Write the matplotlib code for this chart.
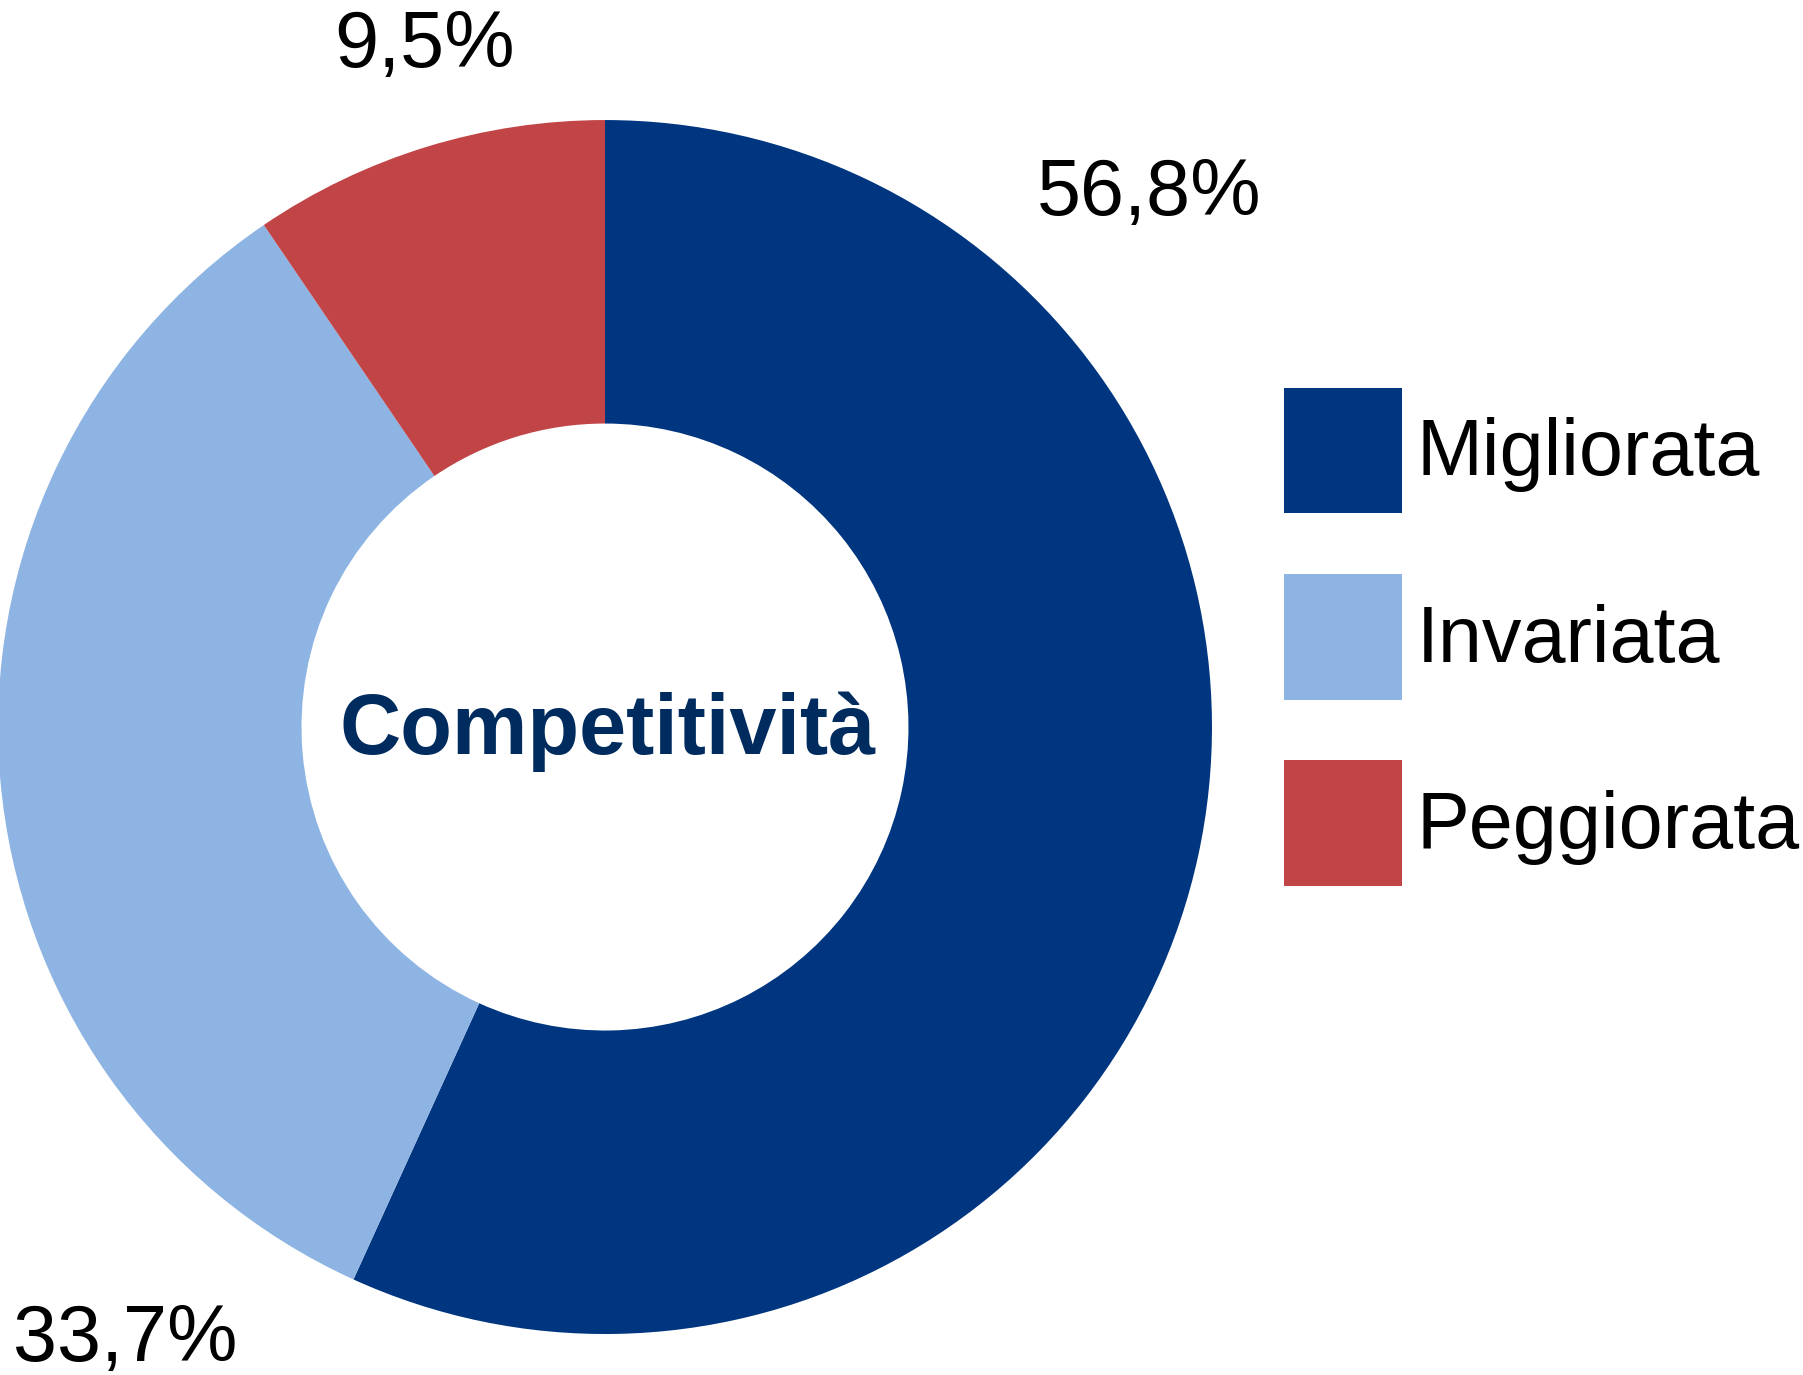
import matplotlib
matplotlib.use("Agg")
import matplotlib.pyplot as plt

plt.rcParams['font.family'] = ['Liberation Sans', 'DejaVu Sans']

# data
categories = ["Migliorata", "Invariata", "Peggiorata"]
shares = [56.8, 33.7, 9.5]
label_texts = ["56,8%", "33,7%", "9,5%"]
colors = ["#003580", "#8EB4E3", "#C14446"]

fig = plt.figure(figsize=(18.03, 13.75), dpi=100)
ax = fig.add_axes([-0.0011, 0.0298, 0.6733, 0.8829])

wedges, _ = ax.pie(shares, colors=colors, startangle=90, counterclock=False,
                   radius=1, wedgeprops=dict(width=0.5, linewidth=0))
ax.set_xlim(-1, 1)
ax.set_ylim(-1, 1)
ax.set_aspect("equal")
ax.axis("off")

# percent labels placed around the ring
label_pos = [(0.896, 0.843), (-0.791, -1.044), (-0.297, 1.087)]
for txt, (x, y) in zip(label_texts, label_pos):
    ax.text(x, y, txt, ha="center", va="baseline", fontsize=57, color="black",
            clip_on=False)

ax.text(0.005, -0.044, "Competitività", ha="center", va="baseline",
        fontsize=61, fontweight="bold", color="#002B5F")

fig.legend(wedges, categories, loc="upper left", bbox_to_anchor=(0.712, 0.718),
           frameon=False, fontsize=57, borderpad=0, borderaxespad=0,
           handlelength=1.49, handleheight=2.06, handletextpad=0.19,
           labelspacing=0.77)

fig.savefig("out.png", dpi=100)
